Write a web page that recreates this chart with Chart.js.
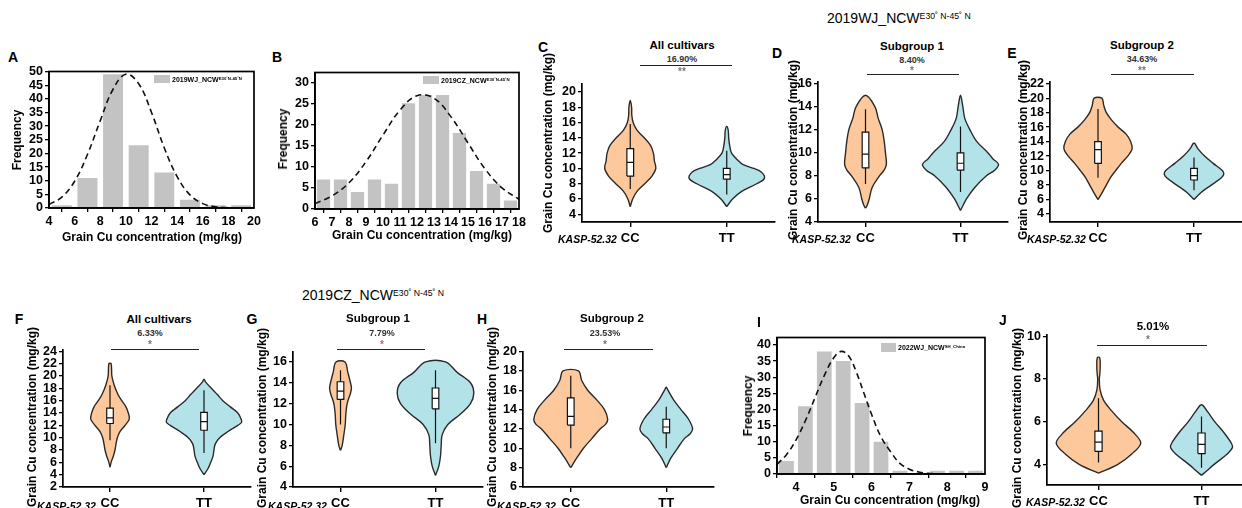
<!DOCTYPE html>
<html>
<head>
<meta charset="utf-8">
<script src="https://cdn.jsdelivr.net/npm/chart.js@4.4.1/dist/chart.umd.min.js"></script>
<style>
html, body { margin: 0; padding: 0; background: #fff; }
#page { position: relative; width: 1242px; height: 508px; overflow: hidden; font-family: 'Liberation Sans', Arial, sans-serif; }
canvas { position: absolute; }
.t { position: absolute; white-space: nowrap; color: #000; line-height: 1; }
.t sup { font-size: 0.62em; vertical-align: 0.45em; }
.sig { position: absolute; border-top: 1px solid #222; height: 0; }
.lg { position: absolute; background: #c3c3c3; }
</style>
</head>
<body>
<div id="page"></div>
<script>
// ---- histogram data ----
const histA_x = [5, 7, 9, 11, 13, 15, 17, 19];
const histA_n = [1, 11, 49, 23, 13, 3, 1, 1];
const fitA_x = [4, 5, 6, 7, 8, 9, 10, 11, 12, 13, 14, 15, 16, 17, 18];
const fitA_y = [1.3, 4, 9.8, 19.6, 32, 43.5, 49, 45.5, 35, 22, 11.5, 4.8, 1.6, 0.45, 0.1];

const histB_x = [6.5, 7.5, 8.5, 9.5, 10.5, 11.5, 12.5, 13.5, 14.5, 15.5, 16.5, 17.5];
const histB_n = [7, 7, 4, 7, 6, 25, 27, 27, 18, 9, 6, 2];
const fitB_x = [6, 7, 8, 9, 10, 11, 12, 13, 14, 15, 16, 17, 18];
const fitB_y = [1.3, 3.1, 6.2, 11.2, 17.5, 23.4, 26.8, 26.2, 21.8, 15.6, 9.5, 5.0, 2.3];

const histI_x = [3.75, 4.25, 4.75, 5.25, 5.75, 6.25, 6.75, 7.25, 7.75, 8.25, 8.75];
const histI_n = [4, 21, 38, 35, 22, 10, 1, 0, 1, 1, 1];
const fitI_x = [3.5, 3.75, 4, 4.25, 4.5, 4.75, 5, 5.2, 5.4, 5.6, 5.8, 6, 6.25, 6.5, 6.75, 7, 7.25, 7.5, 7.75];
const fitI_y = [3, 6, 10.5, 16.5, 23.5, 30.5, 36, 38, 36.5, 31.5, 25, 18.5, 11.5, 7, 3.3, 1.5, 0.6, 0.2, 0.05];

// ---- violin data: levels (mg/kg), half widths (category units), box [low, q1, median, q3, high] ----
const genotypes = ['CC', 'TT'];

const C_cc_lv = [5, 6, 7, 8, 9, 10, 11, 12, 13, 14, 15, 16, 17, 18, 18.9];
const C_cc_w  = [0, 0.025, 0.07, 0.15, 0.225, 0.265, 0.25, 0.24, 0.21, 0.145, 0.07, 0.03, 0.016, 0.014, 0];
const C_cc_box = [7.3, 9.0, 10.8, 12.6, 15.8];
const C_tt_lv = [5, 6, 7, 8, 8.7, 9.5, 10, 10.5, 11, 12, 13, 14, 15, 15.5];
const C_tt_w  = [0, 0.06, 0.155, 0.31, 0.39, 0.36, 0.28, 0.17, 0.12, 0.05, 0.03, 0.02, 0.015, 0];
const C_tt_box = [6.6, 8.6, 9.2, 10.0, 12.3];

const D_cc_lv = [5.2, 5.5, 6, 7, 8, 8.5, 9, 10, 11, 12, 13, 14, 15];
const D_cc_w  = [0, 0.02, 0.039, 0.07, 0.147, 0.196, 0.22, 0.21, 0.197, 0.176, 0.134, 0.1, 0];
const D_cc_box = [7.3, 8.7, 9.9, 11.8, 13.8];
const D_tt_lv = [5, 6, 7, 8, 8.5, 9, 9.5, 10, 11, 12, 13, 14, 15];
const D_tt_w  = [0, 0.063, 0.15, 0.27, 0.36, 0.4, 0.34, 0.29, 0.17, 0.1, 0.045, 0.025, 0];
const D_tt_box = [6.6, 8.5, 9.1, 10.0, 12.3];

const E_cc_lv = [6, 7, 8, 9, 10, 11, 12, 13, 14, 15, 16, 17, 18, 19, 20];
const E_cc_w  = [0, 0.045, 0.087, 0.128, 0.184, 0.243, 0.31, 0.355, 0.34, 0.295, 0.21, 0.14, 0.087, 0.06, 0.04];
const E_cc_box = [9.0, 11.0, 12.9, 14.0, 18.5];
const E_tt_lv = [6, 7, 8, 9, 9.5, 10, 11, 12, 13, 13.8];
const E_tt_w  = [0, 0.076, 0.18, 0.285, 0.31, 0.295, 0.2, 0.11, 0.042, 0];
const E_tt_box = [7.3, 8.7, 9.3, 10.3, 11.8];

const F_cc_lv = [5.2, 6, 7, 8, 9, 10, 11, 12, 13, 14, 15, 16, 17, 18.5, 20, 22];
const F_cc_w  = [0, 0.012, 0.035, 0.053, 0.064, 0.078, 0.106, 0.16, 0.205, 0.195, 0.17, 0.125, 0.085, 0.045, 0.02, 0.012];
const F_cc_box = [9.6, 12.3, 13.2, 14.8, 18.5];
const F_tt_lv = [4, 5, 6, 7, 8, 9, 10, 11, 12, 12.5, 13, 14, 15, 16, 17, 18, 19, 19.5];
const F_tt_w  = [0, 0.043, 0.071, 0.096, 0.106, 0.12, 0.167, 0.255, 0.36, 0.4, 0.395, 0.36, 0.28, 0.2, 0.142, 0.078, 0.018, 0];
const F_tt_box = [7.5, 11.2, 12.6, 14.1, 17.7];

const G_cc_lv = [7.5, 8, 9, 10, 11, 12, 13, 13.5, 14, 15, 16];
const G_cc_w  = [0, 0.018, 0.035, 0.05, 0.056, 0.07, 0.105, 0.115, 0.105, 0.077, 0.047];
const G_cc_box = [10.0, 12.4, 13.2, 14.1, 15.2];
const G_tt_lv = [5.1, 6, 7, 8, 9, 10, 11, 12, 13, 14, 15, 16];
const G_tt_w  = [0, 0.035, 0.053, 0.06, 0.07, 0.13, 0.263, 0.368, 0.403, 0.368, 0.228, 0.105];
const G_tt_box = [8.2, 11.5, 12.5, 13.5, 15.2];

const H_cc_lv = [8, 9, 10, 11, 12, 12.5, 13, 14, 15, 16, 17, 18];
const H_cc_w  = [0, 0.063, 0.133, 0.22, 0.307, 0.366, 0.387, 0.353, 0.272, 0.178, 0.115, 0.08];
const H_cc_box = [10.0, 12.4, 13.3, 15.2, 17.5];
const H_tt_lv = [8, 9, 10, 11, 11.5, 12, 13, 14, 15, 16, 16.3];
const H_tt_w  = [0, 0.049, 0.118, 0.19, 0.25, 0.276, 0.234, 0.154, 0.077, 0.018, 0];
const H_tt_box = [10.0, 11.6, 12.2, 13.0, 14.3];

const J_cc_lv = [3.6, 4, 4.5, 5, 5.5, 6, 6.5, 7, 7.5, 8, 8.2, 8.5, 9];
const J_cc_w  = [0, 0.184, 0.323, 0.41, 0.34, 0.226, 0.13, 0.05, 0.015, 0.008, 0.012, 0.016, 0.012];
const J_cc_box = [4.1, 4.62, 5.05, 5.57, 7.1];
const J_tt_lv = [3.5, 3.7, 4, 4.5, 4.8, 5, 5.5, 6, 6.5, 6.8];
const J_tt_w  = [0, 0.049, 0.12, 0.25, 0.3, 0.29, 0.217, 0.13, 0.055, 0];
const J_tt_box = [3.85, 4.52, 4.95, 5.48, 6.25];

// ---- tick values ----
const ticksA_x = [4, 6, 8, 10, 12, 14, 16, 18, 20];
const ticksA_y = [0, 5, 10, 15, 20, 25, 30, 35, 40, 45, 50];
const ticksB_x = [6, 7, 8, 9, 10, 11, 12, 13, 14, 15, 16, 17, 18];
const ticksB_y = [0, 5, 10, 15, 20, 25, 30];
const ticksI_x = [4, 5, 6, 7, 8, 9];
const ticksI_y = [0, 5, 10, 15, 20, 25, 30, 35, 40];
const ticksC_y = [4, 6, 8, 10, 12, 14, 16, 18, 20];
const ticksD_y = [4, 6, 8, 10, 12, 14, 16];
const ticksE_y = [4, 6, 8, 10, 12, 14, 16, 18, 20, 22];
const ticksF_y = [2, 4, 6, 8, 10, 12, 14, 16, 18, 20, 22, 24];
const ticksG_y = [4, 6, 8, 10, 12, 14, 16];
const ticksH_y = [6, 8, 10, 12, 14, 16, 18, 20];
const ticksJ_y = [4, 6, 8, 10];

Chart.defaults.font.family = "'Liberation Sans', Arial, sans-serif";
Chart.defaults.color = '#000';
Chart.defaults.animation = false;
Chart.defaults.plugins.legend.display = false;
Chart.defaults.plugins.tooltip.enabled = false;

const page = document.getElementById('page');
const tickFont = { size: 12.5, weight: 'bold' };
const ccFill = '#fcc89c';
const ttFill = '#b3e3e9';
const PAD_T = 8;

function makeCanvas(l, t, r, b, yW, xH, padR) {
    const c = document.createElement('canvas');
    const W = Math.round(r - l + yW + padR);
    const H = Math.round(b - t + PAD_T + xH);
    c.width = W; c.height = H;
    c.style.width = W + 'px'; c.style.height = H + 'px';
    c.style.left = Math.round(l - yW) + 'px';
    c.style.top = Math.round(t - PAD_T) + 'px';
    page.appendChild(c);
    return c;
}

function linScale(min, max, vals, fit, extra) {
    return Object.assign({
        type: 'linear', min: min, max: max,
        afterBuildTicks: function (s) { s.ticks = vals.map(function (v) { return { value: v }; }); },
        afterFit: fit,
        grid: { drawOnChartArea: false, drawTicks: true, tickLength: 4, color: '#000', lineWidth: 1.3 },
        border: { display: true, color: '#000', width: 1.7 },
        ticks: { font: tickFont, color: '#000', padding: 2, autoSkip: false, maxRotation: 0 }
    }, extra || {});
}

// draws the box frame round histogram plots
const framePlugin = {
    id: 'frame',
    afterDraw: function (chart) {
        const a = chart.chartArea, ctx = chart.ctx;
        ctx.save();
        ctx.strokeStyle = '#000';
        ctx.lineWidth = 1.7;
        ctx.strokeRect(a.left, a.top, a.right - a.left, a.bottom - a.top);
        ctx.restore();
    }
};

function histogram(rect, xr, yr, xt, yt, bx, bn, fx, fy) {
    const yW = 30, xH = 24, padR = 12;
    const c = makeCanvas(rect[0], rect[1], rect[2], rect[3], yW, xH, padR);
    new Chart(c, {
        type: 'bar',
        data: {
            datasets: [
                {
                    type: 'line',
                    data: fx.map(function (x, i) { return { x: x, y: fy[i] }; }),
                    borderColor: '#111', borderWidth: 1.6, borderDash: [6, 4],
                    pointRadius: 0, tension: 0.4, fill: false, order: 0
                },
                {
                    type: 'bar',
                    data: bx.map(function (x, i) { return { x: x, y: bn[i] }; }),
                    backgroundColor: '#c3c3c3', borderWidth: 0,
                    barPercentage: 0.78, categoryPercentage: 1, order: 1
                }
            ]
        },
        options: {
            responsive: false,
            layout: { padding: { left: 0, top: PAD_T, right: padR, bottom: 0 } },
            scales: {
                x: linScale(xr[0], xr[1], xt, function (s) { s.height = xH; }, { offset: false }),
                y: linScale(yr[0], yr[1], yt, function (s) { s.width = yW; })
            }
        },
        plugins: [framePlugin]
    });
}

function violinShape(cx, lv, w) {
    const pts = [];
    const n = lv.length;
    for (let i = 0; i < n; i++) pts.push({ x: cx - w[i], y: lv[i] });
    for (let i = n - 1; i >= 0; i--) {
        if ((i === n - 1 || i === 0) && w[i] === 0) continue;
        pts.push({ x: cx + w[i], y: lv[i] });
    }
    pts.push(pts[0]);
    return pts;
}

function violinSets(cx, lv, w, box, fillCol) {
    const bw = 0.035;
    return [
        { data: violinShape(cx, lv, w), fill: 'shape', backgroundColor: fillCol, borderColor: '#2a2a2a',
          borderWidth: 1.4, tension: 0.35, pointRadius: 0, order: 4 },
        { data: [{ x: cx, y: box[0] }, { x: cx, y: box[4] }], fill: false, borderColor: '#111',
          borderWidth: 1.2, tension: 0, pointRadius: 0, order: 3 },
        { data: [{ x: cx - bw, y: box[1] }, { x: cx + bw, y: box[1] }, { x: cx + bw, y: box[3] },
                 { x: cx - bw, y: box[3] }, { x: cx - bw, y: box[1] }],
          fill: 'shape', backgroundColor: '#fff', borderColor: '#111', borderWidth: 1.2, tension: 0, pointRadius: 0, order: 2 },
        { data: [{ x: cx - bw, y: box[2] }, { x: cx + bw, y: box[2] }], fill: false, borderColor: '#111',
          borderWidth: 1.2, tension: 0, pointRadius: 0, order: 1 }
    ];
}

function violinPanel(rect, yr, yt, cc, tt) {
    const yW = 30, xH = 30, padR = 4;
    const c = makeCanvas(rect[0], rect[1], rect[2], rect[3], yW, xH, padR);
    const sets = violinSets(1, cc[0], cc[1], cc[2], ccFill).concat(violinSets(2, tt[0], tt[1], tt[2], ttFill));
    new Chart(c, {
        type: 'line',
        data: { datasets: sets },
        options: {
            responsive: false,
            layout: { padding: { left: 0, top: PAD_T, right: padR, bottom: 0 } },
            scales: {
                x: linScale(0.5, 2.5, [1, 2], function (s) { s.height = xH; }, {
                    grid: { drawOnChartArea: false, drawTicks: true, tickLength: 5, color: '#000', lineWidth: 1.4 },
                    ticks: { font: { size: 13, weight: 'bold' }, color: '#000', padding: 4, autoSkip: false, maxRotation: 0,
                             callback: function (v) { return genotypes[v - 1]; } }
                }),
                y: linScale(yr[0], yr[1], yt, function (s) { s.width = yW; })
            }
        }
    });
}

// ---- charts ----
histogram([49, 70, 254, 208], [4, 20], [0, 50], ticksA_x, ticksA_y, histA_x, histA_n, fitA_x, fitA_y);
histogram([315, 71, 519, 209], [6, 18], [0, 32.3], ticksB_x, ticksB_y, histB_x, histB_n, fitB_x, fitB_y);
histogram([777, 336, 985, 474], [3.5, 9], [0, 42.3], ticksI_x, ticksI_y, histI_x, histI_n, fitI_x, fitI_y);

violinPanel([582, 82, 775, 222], [3, 21.1], ticksC_y, [C_cc_lv, C_cc_w, C_cc_box], [C_tt_lv, C_tt_w, C_tt_box]);
violinPanel([818, 80, 1008, 222], [4, 16.2], ticksD_y, [D_cc_lv, D_cc_w, D_cc_box], [D_tt_lv, D_tt_w, D_tt_box]);
violinPanel([1050, 80, 1242, 222], [2.9, 22.3], ticksE_y, [E_cc_lv, E_cc_w, E_cc_box], [E_tt_lv, E_tt_w, E_tt_box]);
violinPanel([63, 348, 251, 487], [2, 24.3], ticksF_y, [F_cc_lv, F_cc_w, F_cc_box], [F_tt_lv, F_tt_w, F_tt_box]);
violinPanel([293, 350, 483, 487], [4, 17], ticksG_y, [G_cc_lv, G_cc_w, G_cc_box], [G_tt_lv, G_tt_w, G_tt_box]);
violinPanel([523, 350, 714, 487], [6, 20], ticksH_y, [H_cc_lv, H_cc_w, H_cc_box], [H_tt_lv, H_tt_w, H_tt_box]);
violinPanel([1047, 333, 1253, 485], [3.05, 10.08], ticksJ_y, [J_cc_lv, J_cc_w, J_cc_box], [J_tt_lv, J_tt_w, J_tt_box]);

// ---- text overlays ----
function txt(html, x, y, css, anchor) {
    const d = document.createElement('div');
    d.className = 't';
    d.innerHTML = html;
    d.style.cssText += css;
    d.style.left = x + 'px';
    d.style.top = y + 'px';
    d.style.transform = anchor === 'l' ? 'translate(0,-50%)' : 'translate(-50%,-50%)';
    page.appendChild(d);
}
function rot(html, x, y, css) {
    const d = document.createElement('div');
    d.className = 't';
    d.innerHTML = html;
    d.style.cssText += css;
    d.style.left = x + 'px';
    d.style.top = y + 'px';
    d.style.transform = 'translate(-50%,-50%) rotate(-90deg)';
    page.appendChild(d);
}
function sig(x1, x2, y) {
    const d = document.createElement('div');
    d.className = 'sig';
    d.style.left = x1 + 'px'; d.style.top = y + 'px'; d.style.width = (x2 - x1) + 'px';
    page.appendChild(d);
}
function legend(x, y, w, h, html, tx, ty) {
    const b = document.createElement('div');
    b.className = 'lg';
    b.style.left = x + 'px'; b.style.top = y + 'px'; b.style.width = w + 'px'; b.style.height = h + 'px';
    page.appendChild(b);
    txt(html, tx, ty, 'font-size:7px;font-weight:bold;', 'l');
}

const letter = 'font-size:14px;font-weight:bold;';
const axisT = 'font-size:12px;font-weight:bold;';
const grpT = 'font-size:11.5px;font-weight:bold;';
const pctT = 'font-size:9px;font-weight:bold;color:#333;';
const starT = 'font-size:10px;font-weight:bold;color:#777;';
const kasp = 'font-size:10.5px;font-weight:bold;font-style:italic;';
const cu = 'Grain Cu concentration (mg/kg)';

// headers
txt('2019WJ_NCW<sup>E30&#730; N-45&#730; N</sup>', 827, 18, 'font-size:14px;', 'l');
txt('2019CZ_NCW<sup>E30&#730; N-45&#730; N</sup>', 302, 295, 'font-size:14px;', 'l');

// panel letters
[['A', 13, 57], ['B', 277, 57], ['C', 543, 47], ['D', 777, 53], ['E', 1012, 53],
 ['F', 19, 319], ['G', 252, 319], ['H', 482, 319], ['I', 759, 322], ['J', 1003, 320]].forEach(function (p) {
    txt(p[0], p[1], p[2], letter);
});

// histogram titles and legends
rot('Frequency', 17, 140, axisT);
rot('Frequency', 283, 139, axisT);
rot('Frequency', 748, 406, axisT);
txt(cu, 152, 237, axisT);
txt(cu, 422, 235, axisT);
txt(cu, 890, 500, axisT);
legend(154, 75, 16, 8, '2019WJ_NCW<sup>E30&#730;N-45&#730;N</sup>', 172, 79);
legend(423, 76, 16, 8, '2019CZ_NCW<sup>E30&#730;N-45&#730;N</sup>', 441, 80);
legend(881, 343, 15, 9, '2022WJ_NCW<sup>SH_China</sup>', 898, 347);

// violin axis titles
rot(cu, 548, 143, axisT);
rot(cu, 793, 150, axisT);
rot(cu, 1023, 150, axisT);
rot(cu, 32, 417, axisT);
rot(cu, 262, 418, axisT);
rot(cu, 492, 417, axisT);
rot(cu, 1017, 418, axisT);

// marker labels
txt('KASP-52.32', 558, 239, kasp, 'l');
txt('KASP-52.32', 792, 239, kasp, 'l');
txt('KASP-52.32', 1027, 239, kasp, 'l');
txt('KASP-52.32', 37, 506, kasp, 'l');
txt('KASP-52.32', 268, 506, kasp, 'l');
txt('KASP-52.32', 497, 506, kasp, 'l');
txt('KASP-52.32', 1026, 502, kasp, 'l');

// group titles, differences and significance
txt('All cultivars', 682, 46, grpT);
txt('16.90%', 682, 59, pctT);
sig(640, 732, 65);
txt('**', 682, 72, starT);

txt('Subgroup 1', 912, 47, grpT);
txt('8.40%', 912, 60, pctT);
txt('*', 912, 71, starT);
sig(867, 959, 74);

txt('Subgroup 2', 1142, 46, grpT);
txt('34.63%', 1142, 59, pctT);
txt('**', 1142, 71, starT);
sig(1111, 1194, 74);

txt('All cultivars', 159, 320, grpT);
txt('6.33%', 150, 333, pctT);
txt('*', 150, 345, starT);
sig(111, 199, 349);

txt('Subgroup 1', 378, 319, grpT);
txt('7.79%', 382, 333, pctT);
txt('*', 382, 345, starT + 'color:#c0607a;');
sig(337, 425, 349);

txt('Subgroup 2', 612, 319, grpT);
txt('23.53%', 605, 333, pctT);
txt('*', 605, 345, starT);
sig(564, 653, 349);

txt('5.01%', 1153, 327, 'font-size:11.5px;font-weight:bold;');
txt('*', 1148, 340, starT);
sig(1097, 1207, 345);
</script>
</body>
</html>
